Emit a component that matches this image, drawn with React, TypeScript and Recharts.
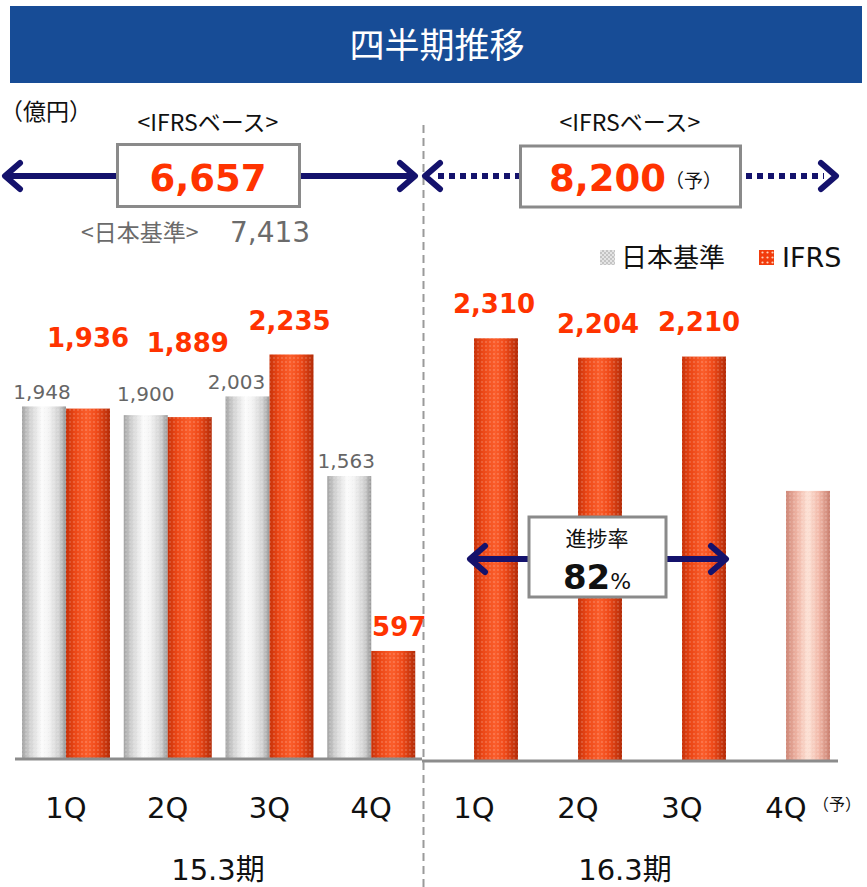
import React from 'react';
import { BarChart, Bar, XAxis, YAxis, Cell, LabelList } from 'recharts';

// quarterly net sales (億円)
const QUARTERS = ['1Q', '2Q', '3Q', '4Q'];
const JGAAP_15 = [1948, 1900, 2003, 1563];
const IFRS_15 = [1936, 1889, 2235, 597];
const IFRS_16 = [2310, 2204, 2210, 1476]; // 4Q = forecast
const FORECAST_16 = [false, false, false, true];

const TOTAL_IFRS_15 = 6657;
const TOTAL_JGAAP_15 = 7413;
const PLAN_IFRS_16 = 8200;
const PROGRESS_PCT = 82;

// label nudges (dx, lift above bar top)
const GRAY_NUDGE_15 = [[-2, 14], [0, 21], [-11, 14], [-3, 15]];
const ORANGE_NUDGE_15 = [[0, 71], [-2, 74], [-2, 33], [6, 24]];
const ORANGE_NUDGE_16 = [[-2, 34], [-2, 34], [-5, 35], [0, 0]];

const NAVY = '#14126c';
const RED = '#ff3300';
const FONT_JP = '"Noto Sans CJK JP", sans-serif';
const FONT_NUM = '"DejaVu Sans", "Noto Sans CJK JP", sans-serif';

const fy15 = QUARTERS.map((q, i) => ({ q, jgaap: JGAAP_15[i], ifrs: IFRS_15[i], forecast: false }));
const fy16 = QUARTERS.map((q, i) => ({ q, jgaap: null, ifrs: IFRS_16[i], forecast: FORECAST_16[i] }));

const fmt = (v: number) => v.toLocaleString('en-US');

const CylinderBar = (props: any) => {
  const { x, y, width, height, fill, dots } = props;
  if (!height || height <= 0) return null;
  return (
    <g>
      <rect x={x} y={y} width={width} height={height} fill={fill} />
      <rect x={x} y={y} width={width} height={height} fill={`url(#${dots})`} />
    </g>
  );
};

function HalfChart({ id, data, left, right, top, bottom, nudgeGray, nudgeOrange }: any) {
  const grayLabel = (p: any) => {
    if (p.value == null) return null;
    const i = p.index ?? data.findIndex((d: any) => d.jgaap === p.value);
    const [dx, lift] = nudgeGray[i] || [0, 14];
    return (
      <text x={p.x + p.width / 2 + dx} y={p.y - lift + 7} textAnchor="middle" fill="#666"
        fontFamily={FONT_NUM} fontSize={20}>{fmt(p.value)}</text>
    );
  };
  const orangeLabel = (p: any) => {
    const i = p.index ?? data.findIndex((d: any) => d.ifrs === p.value);
    if (p.value == null || data[i]?.forecast) return null;
    const [dx, lift] = nudgeOrange[i] || [0, 30];
    return (
      <text x={p.x + p.width / 2 + dx} y={p.y - lift + 9} textAnchor="middle" fill={RED}
        fontFamily={FONT_NUM} fontWeight="bold" fontSize={26}>{fmt(p.value)}</text>
    );
  };
  const tick = (p: any) => (
    <text x={p.x} y={818} textAnchor="middle" fill="#111" fontFamily={FONT_NUM} fontSize={29}>
      {p.payload.value}
    </text>
  );
  return (
    <div style={{ position: 'absolute', left: 0, top: 0 }}>
      <BarChart width={867} height={887} data={data} barSize={44} barGap={0}
        margin={{ top, right, left, bottom }}>
        <defs>
          <linearGradient id={`${id}-gray`} x1="0" y1="0" x2="1" y2="0">
            <stop offset="0" stopColor="#a4a4a4" />
            <stop offset="0.18" stopColor="#d2d2d2" />
            <stop offset="0.45" stopColor="#fbfbfb" />
            <stop offset="0.6" stopColor="#f4f4f4" />
            <stop offset="0.85" stopColor="#cfcfcf" />
            <stop offset="1" stopColor="#979797" />
          </linearGradient>
          <linearGradient id={`${id}-orange`} x1="0" y1="0" x2="1" y2="0">
            <stop offset="0" stopColor="#c7320a" />
            <stop offset="0.2" stopColor="#ec4716" />
            <stop offset="0.48" stopColor="#fb5e2c" />
            <stop offset="0.7" stopColor="#f04b1a" />
            <stop offset="1" stopColor="#b42c08" />
          </linearGradient>
          <linearGradient id={`${id}-pink`} x1="0" y1="0" x2="1" y2="0">
            <stop offset="0" stopColor="#cf8878" />
            <stop offset="0.25" stopColor="#f0b5a5" />
            <stop offset="0.5" stopColor="#fde2d6" />
            <stop offset="0.75" stopColor="#f2b9a9" />
            <stop offset="1" stopColor="#c98070" />
          </linearGradient>
          <pattern id={`${id}-dots`} width={4} height={4} patternUnits="userSpaceOnUse">
            <circle cx={2} cy={2} r={0.9} fill="#ffffff" fillOpacity={0.22} />
            <circle cx={0} cy={0} r={0.7} fill="#000000" fillOpacity={0.06} />
          </pattern>
        </defs>
        <XAxis dataKey="q" height={30} tickLine={false} interval={0}
          axisLine={{ stroke: '#8c8c8c', strokeWidth: 3 }} tick={tick} />
        <YAxis hide domain={[0, 2500]} allowDataOverflow />
        <Bar dataKey="jgaap" fill={`url(#${id}-gray)`} isAnimationActive={false}
          shape={(p: any) => <CylinderBar {...p} dots={`${id}-dots`} />}>
          <LabelList dataKey="jgaap" content={grayLabel} />
        </Bar>
        <Bar dataKey="ifrs" fill={`url(#${id}-orange)`} isAnimationActive={false}
          shape={(p: any) => <CylinderBar {...p} dots={`${id}-dots`} />}>
          {data.map((d: any, i: number) => (
            <Cell key={i} fill={d.forecast ? `url(#${id}-pink)` : `url(#${id}-orange)`} />
          ))}
          <LabelList dataKey="ifrs" content={orangeLabel} />
        </Bar>
      </BarChart>
    </div>
  );
}

const Chevron = ({ x, y, dir }: { x: number; y: number; dir: number }) => (
  <polyline points={`${x - dir * 15},${y - 13} ${x},${y} ${x - dir * 15},${y + 13}`}
    fill="none" stroke={NAVY} strokeWidth={6} strokeLinecap="round" strokeLinejoin="round" />
);

export default function App() {
  return (
    <div style={{ position: 'absolute', left: 0, top: 0, width: 867, height: 887, background: '#fff', overflow: 'hidden' }}>
      <HalfChart id="fy15" data={fy15} left={15} right={445} top={306.5} bottom={98}
        nudgeGray={GRAY_NUDGE_15} nudgeOrange={ORANGE_NUDGE_15} />
      <HalfChart id="fy16" data={fy16} left={422} right={29} top={303.5} bottom={96}
        nudgeGray={[]} nudgeOrange={ORANGE_NUDGE_16} />

      <svg width={867} height={887} style={{ position: 'absolute', left: 0, top: 0, pointerEvents: 'none' }}>
        <defs>
          <pattern id="lg-check" width={4} height={4} patternUnits="userSpaceOnUse">
            <rect width={4} height={4} fill="#e4e4e4" />
            <rect width={2} height={2} fill="#c4c4c4" />
            <rect x={2} y={2} width={2} height={2} fill="#c4c4c4" />
          </pattern>
          <pattern id="lg-dots" width={5} height={5} patternUnits="userSpaceOnUse">
            <rect width={5} height={5} fill="#f23c0c" />
            <circle cx={2.5} cy={2.5} r={1.1} fill="#ffd0b8" />
          </pattern>
        </defs>

        {/* title */}
        <rect x={10} y={6} width={852} height={77} fill="#174c96" />
        <text x={437} y={58} textAnchor="middle" fill="#fff" fontFamily={FONT_JP} fontSize={35}>四半期推移</text>

        <text x={0} y={120} fill="#111" fontFamily={FONT_JP} fontSize={23}>（億円）</text>

        {/* period divider */}
        <line x1={423.5} y1={125} x2={423.5} y2={887} stroke="#9a9a9a" strokeWidth={2} strokeDasharray="8 5" />

        {/* FY15 total */}
        <text x={208} y={131} textAnchor="middle" fill="#111" fontFamily={FONT_JP} fontSize={23}>&lt;IFRSベース&gt;</text>
        <line x1={6} y1={176} x2={117} y2={176} stroke={NAVY} strokeWidth={6} />
        <line x1={299} y1={176} x2={413} y2={176} stroke={NAVY} strokeWidth={6} />
        <Chevron x={5} y={176} dir={-1} />
        <Chevron x={415} y={176} dir={1} />
        <rect x={117.5} y={144.5} width={182} height={62} fill="#fff" stroke="#8a8a8a" strokeWidth={3} />
        <text x={208} y={191} textAnchor="middle" fill={RED} fontFamily={FONT_NUM} fontWeight="bold" fontSize={37}>
          {fmt(TOTAL_IFRS_15)}
        </text>
        <text x={81} y={241} fill="#6b6b6b" fontFamily={FONT_JP} fontSize={23}>&lt;日本基準&gt;</text>
        <text x={230} y={242} fill="#6b6b6b" fontFamily={FONT_NUM} fontSize={28}>{fmt(TOTAL_JGAAP_15)}</text>

        {/* FY16 plan */}
        <text x={630} y={131} textAnchor="middle" fill="#111" fontFamily={FONT_JP} fontSize={23}>&lt;IFRSベース&gt;</text>
        <line x1={438} y1={176} x2={520} y2={176} stroke={NAVY} strokeWidth={6} strokeDasharray="6 5" />
        <line x1={746} y1={176} x2={824} y2={176} stroke={NAVY} strokeWidth={6} strokeDasharray="6 5" />
        <Chevron x={425} y={176} dir={-1} />
        <Chevron x={836} y={176} dir={1} />
        <rect x={520.5} y={146} width={220} height={61} fill="#fff" stroke="#8a8a8a" strokeWidth={3} />
        <text x={549} y={191} fill={RED} fontFamily={FONT_NUM} fontWeight="bold" fontSize={37}>{fmt(PLAN_IFRS_16)}</text>
        <text x={665} y={188} fill="#111" fontFamily={FONT_JP} fontSize={19}>（予）</text>

        {/* legend */}
        <rect x={600} y={250} width={15} height={15} fill="url(#lg-check)" />
        <text x={621} y={267} fill="#111" fontFamily={FONT_JP} fontSize={26}>日本基準</text>
        <rect x={759} y={250} width={15} height={15} fill="url(#lg-dots)" />
        <text x={782} y={267} fill="#111" fontFamily={FONT_NUM} fontSize={27}>IFRS</text>

        {/* progress */}
        <line x1={472} y1={559} x2={724} y2={559} stroke={NAVY} strokeWidth={6} />
        <Chevron x={470} y={559} dir={-1} />
        <Chevron x={726} y={559} dir={1} />
        <rect x={529} y={517} width={137} height={80} fill="#fff" stroke="#8a8a8a" strokeWidth={3} />
        <text x={597} y={546} textAnchor="middle" fill="#111" fontFamily={FONT_JP} fontSize={21}>進捗率</text>
        <text x={597} y={589} textAnchor="middle" fill="#111" fontFamily={FONT_NUM}>
          <tspan fontWeight="bold" fontSize={34}>{PROGRESS_PCT}</tspan>
          <tspan fontSize={22}>%</tspan>
        </text>

        <text x={813} y={810} fill="#111" fontFamily={FONT_JP} fontSize={16}>（予）</text>

        <text x={218} y={880} textAnchor="middle" fill="#111" fontFamily={FONT_NUM} fontSize={29}>15.3期</text>
        <text x={625} y={880} textAnchor="middle" fill="#111" fontFamily={FONT_NUM} fontSize={29}>16.3期</text>
      </svg>
    </div>
  );
}
